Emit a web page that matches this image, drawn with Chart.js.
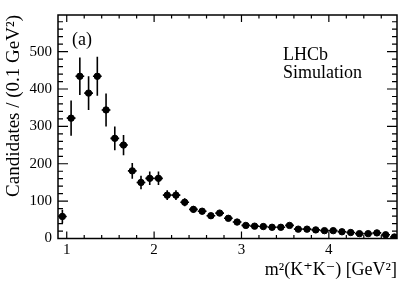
<!DOCTYPE html>
<html>
<head>
<meta charset="utf-8">
<script src="https://cdn.jsdelivr.net/npm/chart.js@4.4.0/dist/chart.umd.min.js"></script>
<style>
  html, body { margin: 0; padding: 0; background: #fff; }
  #wrap { width: 419px; height: 284px; }
</style>
</head>
<body>
<div id="wrap"><canvas id="c" width="419" height="284"></canvas></div>
<script>
// bin centres (GeV^2), 0.1 wide
const binCenters = [0.95, 1.05, 1.15, 1.25, 1.35, 1.45, 1.55, 1.65, 1.75, 1.85,
    1.95, 2.05, 2.15, 2.25, 2.35, 2.45, 2.55, 2.65, 2.75, 2.85,
    2.95, 3.05, 3.15, 3.25, 3.35, 3.45, 3.55, 3.65, 3.75, 3.85,
    3.95, 4.05, 4.15, 4.25, 4.35, 4.45, 4.55, 4.65, 4.75];
const candidates = [59, 322, 434, 389, 434, 344, 268, 250, 181, 150,
    161, 161, 116, 116, 97, 78, 73, 61, 68, 54,
    44, 35, 33, 32, 30, 30, 35, 25, 25, 23,
    21, 21, 18, 16, 13, 13, 15, 10, 4];
const errors = [18, 47, 50, 45, 52, 44, 32, 27, 21, 18,
    18, 18, 13, 13, 11, 9, 8, 7, 7, 6,
    5, 4, 4, 4, 4, 4, 4, 3, 3, 3,
    3, 3, 3, 3, 3, 3, 3, 3, 2];
const binHalfWidth = 0.05;
const xTickLabels = [1, 2, 3, 4];
const yTickLabels = [0, 100, 200, 300, 400, 500];

const serif = '"Liberation Serif", "DejaVu Serif", serif';

// error bars drawn through the chart's own scales
const errorBars = {
    id: 'errorBars',
    afterDatasetsDraw(chart) {
        const ctx = chart.ctx;
        const xs = chart.scales.x, ys = chart.scales.y;
        const area = chart.chartArea;
        ctx.save();
        ctx.strokeStyle = '#000';
        ctx.lineWidth = 1.6;
        binCenters.forEach((x, i) => {
            const px = xs.getPixelForValue(x);
            const py = ys.getPixelForValue(candidates[i]);
            const top = ys.getPixelForValue(candidates[i] + errors[i]);
            const bot = Math.min(ys.getPixelForValue(candidates[i] - errors[i]), area.bottom);
            const l = Math.max(xs.getPixelForValue(x - binHalfWidth), area.left);
            const r = Math.min(xs.getPixelForValue(x + binHalfWidth), area.right);
            ctx.beginPath();
            ctx.moveTo(px, top); ctx.lineTo(px, bot);
            ctx.moveTo(l, py); ctx.lineTo(r, py);
            ctx.stroke();
        });
        ctx.restore();
    }
};

// ROOT-like frame with inward ticks on all four sides, plus the labels
const frame = {
    id: 'frame',
    afterDraw(chart) {
        const ctx = chart.ctx;
        const xs = chart.scales.x, ys = chart.scales.y;
        const a = chart.chartArea;
        ctx.save();
        ctx.strokeStyle = '#000';
        ctx.lineWidth = 1.5;
        ctx.strokeRect(a.left, a.top, a.right - a.left, a.bottom - a.top);
        ctx.lineWidth = 1.2;
        ctx.beginPath();
        for (let k = 5; k <= 24; k++) {
            const val = k * 0.2;
            if (val < xs.min || val > xs.max) continue;
            const px = xs.getPixelForValue(val);
            const len = Math.abs(val - Math.round(val)) < 1e-6 ? 7 : 3.5;
            ctx.moveTo(px, a.bottom); ctx.lineTo(px, a.bottom - len);
            ctx.moveTo(px, a.top); ctx.lineTo(px, a.top + len);
        }
        for (let val = 0; val <= ys.max; val += 20) {
            const py = ys.getPixelForValue(val);
            const len = val % 100 === 0 ? 10 : 5;
            ctx.moveTo(a.left, py); ctx.lineTo(a.left + len, py);
            ctx.moveTo(a.right, py); ctx.lineTo(a.right - len, py);
        }
        ctx.stroke();

        ctx.fillStyle = '#000';
        ctx.font = '18px ' + serif;
        ctx.textBaseline = 'alphabetic';
        ctx.textAlign = 'left';
        ctx.fillText('(a)', 72, 45);
        ctx.fillText('LHCb', 283, 60);
        ctx.fillText('Simulation', 283, 78);
        ctx.restore();
    }
};

new Chart(document.getElementById('c'), {
    type: 'scatter',
    data: {
        datasets: [{
            data: binCenters.map((x, i) => ({ x: x, y: candidates[i] })),
            backgroundColor: '#000',
            borderColor: '#000',
            pointRadius: 3.2,
            pointHoverRadius: 3.2
        }]
    },
    options: {
        responsive: false,
        animation: false,
        events: [],
        layout: { padding: { left: 0, right: 22, top: 14, bottom: 0 } },
        plugins: { legend: { display: false }, tooltip: { enabled: false } },
        scales: {
            x: {
                type: 'linear',
                min: 0.9,
                max: 4.78,
                afterFit: s => { s.height = 45.5; },
                afterBuildTicks: s => { s.ticks = xTickLabels.map(v => ({ value: v })); },
                grid: { display: false, drawTicks: false },
                border: { display: false },
                ticks: {
                    autoSkip: false,
                    maxRotation: 0,
                    padding: 3,
                    color: '#000',
                    font: { family: serif, size: 15 }
                },
                title: {
                    display: true,
                    text: 'm²(K⁺K⁻) [GeV²]',
                    align: 'end',
                    color: '#000',
                    font: { family: serif, size: 18 },
                    padding: { top: 0, bottom: 3 }
                }
            },
            y: {
                min: 0,
                max: 598,
                afterFit: s => { s.width = 58; },
                afterBuildTicks: s => { s.ticks = yTickLabels.map(v => ({ value: v })); },
                grid: { display: false, drawTicks: false },
                border: { display: false },
                ticks: {
                    autoSkip: false,
                    padding: 6,
                    color: '#000',
                    font: { family: serif, size: 15 }
                },
                title: {
                    display: true,
                    text: 'Candidates / (0.1 GeV²)',
                    align: 'end',
                    color: '#000',
                    font: { family: serif, size: 19 },
                    padding: { top: 3, bottom: 0 }
                }
            }
        }
    },
    plugins: [errorBars, frame]
});
</script>
</body>
</html>
